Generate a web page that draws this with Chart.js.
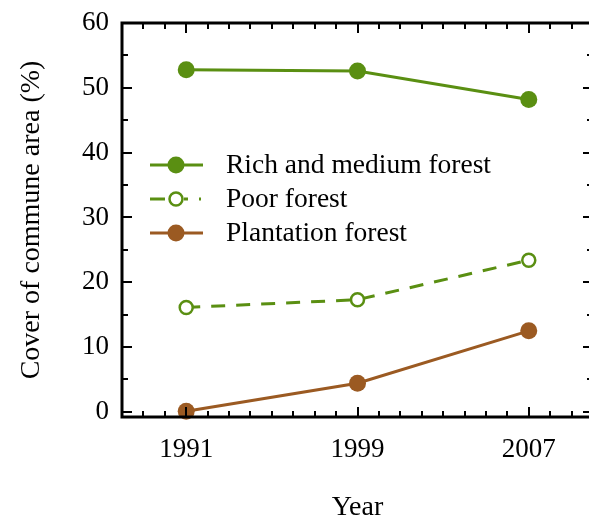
<!DOCTYPE html>
<html>
<head>
<meta charset="utf-8">
<script src="https://cdn.jsdelivr.net/npm/chart.js@4.4.1/dist/chart.umd.min.js"></script>
<style>
  html, body { margin: 0; padding: 0; background: #fff; overflow: hidden; }
  #wrap { position: absolute; left: 0; top: 0; width: 605px; height: 520px; }
</style>
</head>
<body>
<div id="wrap"><canvas id="chart" width="605" height="520"></canvas></div>
<script>
// ---------- DATA ----------
const years = [1991, 1999, 2007];
const richMedium = [52.8, 52.6, 48.2];
const poorForest = [16.1, 17.3, 23.4];
const plantation = [0.1, 4.4, 12.5];
const xTicks = [1991, 1999, 2007];
const yTicks = [0, 10, 20, 30, 40, 50, 60];
const seriesNames = ["Rich and medium forest", "Poor forest", "Plantation forest"];

const GREEN = "#5a8f12";
const BROWN = "#9b5a22";
const FONT = "'Liberation Serif', 'Times New Roman', serif";

function pts(vals) {
    return years.map((y, i) => ({ x: y, y: vals[i] }));
}

// ---------- FRAME + INWARD TICKS ----------
const framePlugin = {
    id: "frame",
    afterDatasetsDraw(chart) {
        const ctx = chart.ctx;
        const a = chart.chartArea;
        const xs = chart.scales.x, ys = chart.scales.y;
        ctx.save();
        ctx.strokeStyle = "#000";
        ctx.lineWidth = 2;
        for (let v = 1988; v <= 2010; v++) {
            const px = Math.round(xs.getPixelForValue(v));
            const len = (v - 1991) % 8 === 0 ? 10 : 6;
            ctx.beginPath();
            ctx.moveTo(px, a.bottom); ctx.lineTo(px, a.bottom - len);
            ctx.moveTo(px, a.top); ctx.lineTo(px, a.top + len);
            ctx.stroke();
        }
        for (let v = 0; v <= 60; v += 5) {
            const py = Math.round(ys.getPixelForValue(v));
            const len = v % 10 === 0 ? 10 : 6;
            ctx.beginPath();
            ctx.moveTo(a.left, py); ctx.lineTo(a.left + len, py);
            ctx.moveTo(a.right, py); ctx.lineTo(a.right - len, py);
            ctx.stroke();
        }
        ctx.lineWidth = 3;
        ctx.strokeRect(a.left, a.top, a.right - a.left, a.bottom - a.top);
        ctx.restore();
    }
};

// ---------- LEGEND (line - marker - line) ----------
const legendPlugin = {
    id: "lineLegend",
    afterDraw(chart) {
        const ctx = chart.ctx;
        const rows = [165, 199, 233];
        ctx.save();
        chart.data.datasets.forEach((ds, i) => {
            const y = rows[i];
            ctx.strokeStyle = ds.borderColor;
            ctx.lineWidth = 3;
            ctx.setLineDash(ds.borderDash && ds.borderDash.length ? [15, 19, 4, 11, 2, 100] : []);
            ctx.beginPath();
            ctx.moveTo(150, y); ctx.lineTo(203, y);
            ctx.stroke();
            ctx.setLineDash([]);
            ctx.beginPath();
            ctx.arc(176, y, ds.pointRadius, 0, Math.PI * 2);
            ctx.fillStyle = ds.pointBackgroundColor;
            ctx.fill();
            if (ds.pointBorderWidth) {
                ctx.lineWidth = ds.pointBorderWidth;
                ctx.strokeStyle = ds.pointBorderColor;
                ctx.stroke();
            }
            ctx.fillStyle = "#000";
            ctx.font = "27.5px " + FONT;
            ctx.textBaseline = "middle";
            ctx.fillText(ds.label, 226, y + 1);
        });
        ctx.restore();
    }
};

new Chart(document.getElementById("chart"), {
    type: "line",
    data: {
        datasets: [
            {
                label: seriesNames[0],
                data: pts(richMedium),
                borderColor: GREEN,
                borderWidth: 3,
                pointRadius: 8.5,
                pointBackgroundColor: GREEN,
                pointBorderColor: GREEN,
                pointBorderWidth: 0
            },
            {
                label: seriesNames[1],
                data: pts(poorForest),
                borderColor: GREEN,
                borderWidth: 3,
                borderDash: [14, 11],
                pointRadius: 6.5,
                pointBackgroundColor: "#fff",
                pointBorderColor: GREEN,
                pointBorderWidth: 2.5
            },
            {
                label: seriesNames[2],
                data: pts(plantation),
                borderColor: BROWN,
                borderWidth: 3,
                pointRadius: 8.5,
                pointBackgroundColor: BROWN,
                pointBorderColor: BROWN,
                pointBorderWidth: 0
            }
        ]
    },
    options: {
        responsive: false,
        animation: false,
        devicePixelRatio: 1,
        clip: false,
        layout: { padding: { top: 23, right: 12, left: 0, bottom: 0 } },
        plugins: { legend: { display: false }, tooltip: { enabled: false } },
        scales: {
            x: {
                type: "linear",
                min: 1988,
                max: 2010,
                afterBuildTicks: s => { s.ticks = xTicks.map(v => ({ value: v })); },
                afterFit: s => { s.height = 103; },
                grid: { display: false },
                border: { display: false },
                ticks: {
                    color: "#000",
                    font: { family: FONT, size: 27 },
                    padding: 9,
                    maxRotation: 0,
                    callback: v => String(v)
                },
                title: {
                    display: true,
                    text: "Year",
                    color: "#000",
                    font: { family: FONT, size: 28, lineHeight: 1.0 },
                    padding: { top: 0, bottom: -2 }
                }
            },
            y: {
                min: -0.8,
                max: 60,
                afterBuildTicks: s => { s.ticks = yTicks.map(v => ({ value: v })); },
                afterFit: s => { s.width = 122; },
                grid: { display: false },
                border: { display: false },
                ticks: {
                    color: "#000",
                    font: { family: FONT, size: 27 },
                    padding: 5
                },
                title: {
                    display: true,
                    text: "Cover of commune area (%)",
                    color: "#000",
                    font: { family: FONT, size: 28, lineHeight: 1.0 },
                    padding: { top: 18, bottom: 0 }
                }
            }
        }
    },
    plugins: [framePlugin, legendPlugin]
});
</script>
</body>
</html>
